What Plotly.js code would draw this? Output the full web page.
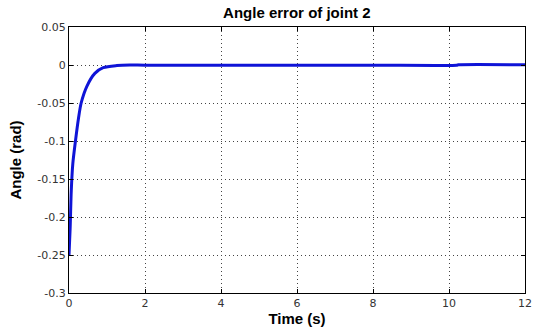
<!DOCTYPE html>
<html>
<head>
<meta charset="utf-8">
<script src="https://cdn.plot.ly/plotly-3.0.1.min.js"></script>
<style>html,body{margin:0;padding:0;background:#fff;}#chart{width:533px;height:331px;}</style>
</head>
<body>
<div id="chart"></div>
<script>
const timeS = [0, 0.03, 0.06, 0.1, 0.17, 0.25, 0.32, 0.47, 0.68, 0.9, 1.26, 1.6, 2, 4, 6, 8, 10.2, 10.25, 12];
const angleErr = [-0.25, -0.215, -0.165, -0.13, -0.1, -0.07, -0.05, -0.028, -0.011, -0.0035, -0.0007, 0, -0.0003, -0.0003, -0.0003, -0.0003, -0.0003, 0.0002, 0.0002];
const xTicks = [0, 2, 4, 6, 8, 10, 12];
const yTicks = [0.05, 0, -0.05, -0.1, -0.15, -0.2, -0.25, -0.3];
const yTickText = ['0.05', '0', '-0.05', '-0.1', '-0.15', '-0.2', '-0.25', '-0.3'];

const TICKFONT = 'DejaVu Sans, Verdana, sans-serif';
const LABELFONT = 'Liberation Sans, Arial, Helvetica, sans-serif';
const axisCommon = {
  showline: true, linecolor: '#000', linewidth: 1, mirror: 'ticks',
  ticks: 'inside', ticklen: 4, tickcolor: '#000', tickwidth: 1,
  showgrid: true, gridcolor: '#444', griddash: '1px,3px', gridwidth: 1,
  zeroline: false,
  tickfont: {family: TICKFONT, size: 11, color: '#333'}
};

const trace = {
  x: timeS, y: angleErr, type: 'scatter', mode: 'lines',
  line: {color: 'rgb(15,20,215)', width: 3, shape: 'spline', smoothing: 0.8}
};

const layout = {
  width: 533, height: 331,
  margin: {l: 69, r: 8, t: 27, b: 38},
  paper_bgcolor: '#fff', plot_bgcolor: '#fff',
  showlegend: false,
  title: {text: 'Angle error of joint 2', x: 0.557, xref: 'container', xanchor: 'center',
          y: 1 - 13/331, yref: 'container', yanchor: 'middle',
          font: {family: LABELFONT, size: 15, color: '#000', weight: 'bold'}},
  xaxis: Object.assign({}, axisCommon, {
    range: [0, 12], tickvals: xTicks, ticktext: xTicks.map(String),
    title: {text: 'Time (s)', standoff: 2,
            font: {family: LABELFONT, size: 15, color: '#000', weight: 'bold'}}
  }),
  yaxis: Object.assign({}, axisCommon, {
    range: [-0.3, 0.05], tickvals: yTicks, ticktext: yTickText,
    title: {text: 'Angle (rad)', standoff: 12,
            font: {family: LABELFONT, size: 15, color: '#000', weight: 'bold'}}
  })
};

Plotly.newPlot('chart', [trace], layout, {staticPlot: true, displayModeBar: false});
</script>
</body>
</html>
